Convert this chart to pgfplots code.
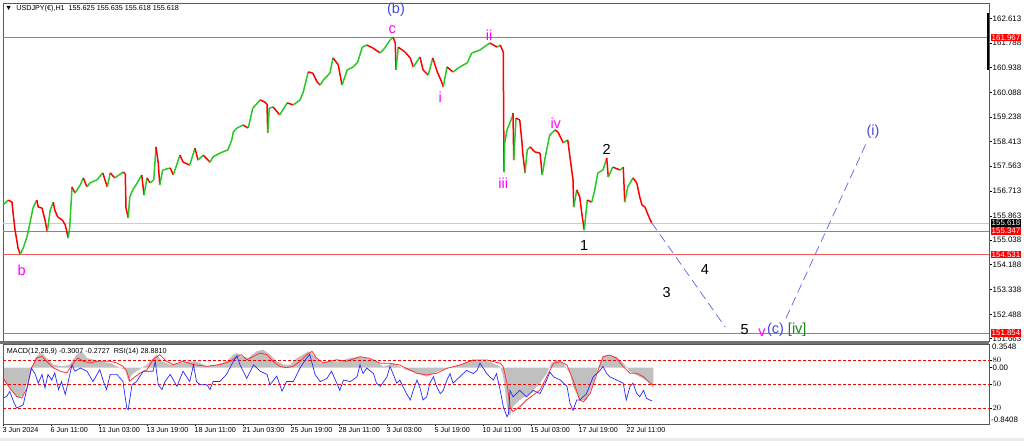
\documentclass[border=0pt]{standalone}
\usepackage{fontspec}
\setmainfont{Liberation Sans}
\usepackage{pgfplots}
\pgfplotsset{compat=1.18}

\definecolor{upc}{RGB}{40,200,40}
\definecolor{dnc}{RGB}{255,0,0}
\definecolor{lvl}{RGB}{240,90,90}
\definecolor{wave}{RGB}{255,0,255}
\definecolor{dashblue}{RGB}{90,100,235}
\definecolor{lblue}{RGB}{70,70,225}
\definecolor{wgreen}{RGB}{20,135,20}
\definecolor{histgray}{RGB}{192,192,192}
\definecolor{rsiblue}{RGB}{40,40,255}
\definecolor{sigred}{RGB}{255,50,50}

\newcommand\tf{\fontsize{7.2}{8}\selectfont}
\newcommand\scf{\fontsize{7.9}{9}\selectfont}
\newcommand\wf{\fontsize{14.5}{15}\selectfont}

\pgfplotsset{
  panel/.style={scale only axis, width=986pt, xmin=0, xmax=1314.67,
    clip=false, axis line style={black!65, line width=0.6pt},
    tick align=outside, major tick length=2.5pt,
    tick style={black, line width=0.5pt},
    ticklabel style={font=\tf, inner sep=1pt},
    yticklabel style={font=\scf}},
}

\begin{document}
\begin{tikzpicture}[x=1pt,y=1pt]
\fill[white] (0,0) rectangle (1024,441);
\useasboundingbox (0,0) rectangle (1024,441);
\fill[black!8] (0,0) rectangle (1024,3);

% price panel
\begin{axis}[panel, height=338pt, at={(3pt,100pt)}, anchor=south west,
  ymin=151.574, ymax=163.151,
  xtick=\empty,
  ytick={162.613,161.788,160.938,160.088,159.238,158.413,157.563,156.713,155.863,155.038,154.188,153.338,152.488,151.663},
  yticklabels={162.613,161.788,160.938,160.088,159.238,158.413,157.563,156.713,155.863,155.038,154.188,153.338,152.488,151.663},
  ytick pos=right, yticklabel pos=right,
  yticklabel style={anchor=west}]

\addplot[black!20, line width=0.5pt] coordinates {(0,155.618) (1314.67,155.618)};
\addplot[lvl, line width=0.6pt] coordinates {(0,161.967) (1314.67,161.967)};
\addplot[lvl, line width=0.6pt] coordinates {(0,155.347) (1314.67,155.347)};
\addplot[lvl, line width=0.6pt] coordinates {(0,154.531) (1314.67,154.531)};
\addplot[lvl, line width=0.6pt] coordinates {(0,151.854) (1314.67,151.854)};

% USDJPY H1, up legs green, down legs red
\addplot[mesh, shader=flat corner, point meta=explicit, point meta min=0, point meta max=1,
  colormap={rg}{color(0)=(dnc) color(1)=(upc)}, line width=1.5pt] coordinates {
(0,156.23) [1] (7,156.40) [0] (12,156.33) [0] (13,156.06) [0] (16,155.38) [0]
(19,154.93) [0] (20,154.76) [0] (23,154.55) [1] (27,154.76) [1] (32,155.14) [1]
(36,155.62) [1] (40,156.13) [1] (45,156.40) [0] (47,156.16) [0] (52,156.13) [0]
(56,155.72) [0] (59,155.31) [1] (63,156.06) [1] (67,156.33) [0] (69,156.06) [0]
(73,155.82) [0] (79,155.72) [0] (83,155.55) [0] (87,155.10) [1] (89,155.48) [1]
(92,156.85) [0] (96,156.64) [1] (103,156.92) [1] (107,157.16) [0] (112,156.85) [1]
(116,156.99) [1] (125,157.09) [1] (133,157.33) [0] (139,156.85) [1] (143,157.33) [0]
(149,157.16) [1] (160,157.36) [0] (163,157.30) [0] (164,156.13) [0] (167,155.79) [1]
(169,156.51) [1] (173,156.75) [1] (179,156.99) [1] (185,157.26) [0] (188,156.57) [1]
(192,157.16) [0] (196,156.99) [1] (201,157.09) [1] (204,158.22) [0] (207,157.67) [0]
(209,156.92) [1] (213,157.43) [1] (223,157.50) [0] (227,157.26) [1] (236,157.94) [0]
(240,157.70) [0] (249,157.60) [1] (256,158.18) [0] (260,157.77) [1] (267,157.94) [0]
(276,157.70) [1] (280,157.88) [1] (289,158.01) [1] (300,158.12) [1] (305,158.46) [1]
(307,158.73) [1] (312,158.87) [1] (320,158.97) [0] (327,158.87) [1] (333,159.55) [1]
(343,159.83) [0] (349,159.76) [0] (352,159.69) [0] (353,158.70) [1] (355,159.55) [1]
(360,159.59) [0] (369,159.32) [1] (379,159.73) [0] (387,159.66) [1] (396,159.83) [1]
(400,160.07) [1] (407,160.79) [0] (413,160.75) [0] (419,160.44) [0] (423,160.34) [1]
(427,160.51) [1] (436,160.75) [1] (440,161.27) [0] (447,161.03) [0] (452,160.34) [1]
(459,160.86) [1] (467,160.96) [1] (473,161.13) [1] (479,161.64) [1] (485,161.71) [0]
(493,161.61) [0] (503,161.44) [1] (509,161.61) [1] (516,161.88) [1] (520,161.98) [0]
(523,161.78) [0] (524,160.86) [1] (527,161.64) [0] (536,161.47) [0] (543,161.27) [0]
(547,160.96) [1] (556,161.30) [0] (560,160.86) [0] (567,160.68) [1] (573,161.27) [0]
(579,160.79) [0] (585,160.44) [0] (587,160.27) [1] (592,160.96) [0] (600,160.79) [1]
(609,160.96) [1] (619,161.10) [1] (625,161.44) [1] (636,161.54) [1] (645,161.71) [1]
(649,161.78) [0] (659,161.64) [1] (663,161.71) [0] (667,161.47) [0] (668,157.36) [1]
(669,158.36) [1] (672,158.80) [1] (679,159.25) [1] (680,159.38) [0] (681,157.77) [1]
(684,159.21) [0] (689,159.14) [0] (692,158.36) [0] (693,158.01) [0] (696,157.33) [1]
(699,158.12) [1] (703,158.22) [0] (709,158.05) [0] (716,158.01) [0] (719,157.26) [1]
(723,157.88) [1] (729,158.63) [1] (736,158.80) [0] (740,158.73) [0] (747,158.36) [1]
(753,158.46) [0] (757,157.67) [0] (760,157.09) [0] (761,156.16) [1] (765,156.75) [0]
(769,156.51) [0] (772,155.89) [0] (775,155.37) [1] (779,156.40) [0] (785,156.33) [1]
(789,156.75) [1] (793,157.33) [1] (800,157.43) [1] (805,157.84) [0] (807,157.19) [1]
(813,157.53) [0] (823,157.43) [1] (827,157.53) [0] (829,156.33) [1] (833,156.85) [1]
(840,157.16) [0] (845,156.99) [0] (849,156.51) [0] (852,156.23) [0] (856,156.16) [0]
(859,155.96) [0] (863,155.72) [0] (865,155.62) [0]
};

% projected path
\addplot[dashblue, line width=0.7pt, dash pattern=on 9pt off 5pt] coordinates {(865,155.62) (963,152.05)};
\addplot[dashblue, line width=0.7pt, dash pattern=on 9pt off 5pt] coordinates {(1044,152.36) (1153,158.46)};

% wave labels
\node[text=lblue, font=\wf] at (axis cs:524,162.91) {(b)};
\node[text=wave, font=\wf] at (axis cs:519,162.23) {c};
\node[text=wave, font=\wf] at (axis cs:648,162.05) {ii};
\node[text=wave, font=\wf] at (axis cs:583,159.93) {i};
\node[text=wave, font=\wf] at (axis cs:667,156.99) {iii};
\node[text=wave, font=\wf] at (axis cs:737,159.04) {iv};
\node[text=black, font=\wf] at (axis cs:805,158.12) {2};
\node[text=black, font=\wf] at (axis cs:775,154.86) {1};
\node[text=wave, font=\wf] at (axis cs:25,154.01) {b};
\node[text=black, font=\wf] at (axis cs:936,154.01) {4};
\node[text=black, font=\wf] at (axis cs:885,153.22) {3};
\node[text=black, font=\wf] at (axis cs:989,151.98) {5};
\node[text=wave, font=\wf] at (axis cs:1012,151.85) {v};
\node[text=lblue, font=\wf] at (axis cs:1030,151.95) {(c)};
\node[text=wgreen, font=\wf] at (axis cs:1059,151.95) {[iv]};
\node[text=lblue, font=\wf] at (axis cs:1160,158.73) {(i)};

% price boxes on the scale
\node[fill=dnc, text=white, font=\scf, inner sep=1pt, anchor=west, xshift=1.5pt] at (axis cs:1314.67,161.967) {161.967};
\node[fill=dnc, text=white, font=\scf, inner sep=1pt, anchor=west, xshift=1.5pt] at (axis cs:1314.67,155.347) {155.347};
\node[fill=dnc, text=white, font=\scf, inner sep=1pt, anchor=west, xshift=1.5pt] at (axis cs:1314.67,154.531) {154.531};
\node[fill=dnc, text=white, font=\scf, inner sep=1pt, anchor=west, xshift=1.5pt] at (axis cs:1314.67,151.854) {151.854};
\node[fill=black, text=white, font=\scf, inner sep=1pt, anchor=west, xshift=1.5pt] at (axis cs:1314.67,155.618) {155.618};
\end{axis}

\draw[line width=2pt] (988,428) -- (988,371);
\node[anchor=west, font=\tf, inner sep=0pt] at (5,432) {▼\ \ USDJPY(€),H1\ \ 155.625 155.635 155.618 155.618};

\fill[black!55] (0,97) rectangle (989,100);

% MACD part of the lower panel
\begin{axis}[panel, height=80pt, at={(3pt,17pt)}, anchor=south west,
  ymin=-0.8408, ymax=0.3548,
  xtick={0,64,128,192,256,320,384,448,512,576,640,704,768,832},
  xticklabels={3 Jun 2024,6 Jun 11:00,11 Jun 03:00,13 Jun 19:00,18 Jun 11:00,21 Jun 03:00,25 Jun 19:00,28 Jun 11:00,3 Jul 03:00,5 Jul 19:00,10 Jul 11:00,15 Jul 03:00,17 Jul 19:00,22 Jul 11:00},
  xtick pos=bottom, xticklabel style={anchor=north west, xshift=-1.5pt},
  ytick={0}, yticklabels={0.00}, ytick pos=right, yticklabel pos=right,
  yticklabel style={anchor=west}]
\addplot[fill=histgray, draw=none] coordinates {
(0,-0.178)(7,-0.277)(14,-0.377)(20,-0.452)(27,-0.403)(34,-0.153)(38,0.00)(43,0.146)(47,0.195)(52,0.22)
(58,0.146)(67,0.046)(80,0.021)(89,0.046)(98,0.195)(105,0.245)(112,0.146)(129,0.096)(143,0.071)(156,0.00)
(163,-0.03)(167,-0.20)(172,-0.10)(178,-0.05)(192,0.046)(200,0.146)(205,0.195)(212,0.096)(223,0.046)(236,0.071)
(249,0.096)(258,0.096)(272,0.021)(285,0.046)(298,0.096)(307,0.195)(312,0.22)(318,0.171)(327,0.146)(338,0.245)
(347,0.27)(356,0.195)(365,0.096)(374,0.046)(383,0.046)(392,0.146)(400,0.195)(407,0.245)(416,0.171)(423,0.071)
(434,0.096)(449,0.096)(463,0.146)(476,0.165)(494,0.116)(507,0.016)(520,0.066)(538,-0.034)(552,-0.083)(565,-0.134)
(578,-0.06)(592,-0.009)(609,0.041)(627,0.116)(649,0.091)(663,0.016)(667,-0.134)(672,-0.582)(676,-0.732)(680,-0.582)
(689,-0.482)(703,-0.382)(716,-0.232)(725,-0.083)(731,0.066)(738,0.116)(747,0.066)(756,-0.083)(760,-0.283)(769,-0.482)
(778,-0.482)(787,-0.232)(792,-0.034)(800,0.165)(805,0.19)(818,0.165)(827,0.066)(836,-0.059)(849,-0.134)(863,-0.232)
(867,-0.300)
} \closedcycle;
\addplot[sigred, line width=0.8pt] coordinates {
(0,-0.153)(9,-0.303)(18,-0.427)(25,-0.452)(32,-0.303)(38,-0.004)(45,0.146)(52,0.171)(58,0.096)(67,0.00)
(76,-0.05)(85,-0.078)(94,0.071)(100,0.146)(107,0.096)(116,0.071)(125,0.096)(143,0.096)(152,0.071)(160,0.021)
(165,-0.05)(169,-0.20)(174,-0.153)(183,-0.078)(192,-0.03)(200,0.12)(209,0.195)(218,0.096)(227,0.046)(240,0.096)
(254,0.046)(272,0.021)(289,0.046)(303,0.096)(312,0.171)(318,0.195)(325,0.12)(334,0.171)(343,0.22)(352,0.195)
(360,0.096)(369,0.021)(378,0.00)(387,0.021)(396,0.096)(405,0.195)(412,0.245)(418,0.146)(427,0.071)(436,0.096)
(445,0.12)(458,0.096)(476,0.165)(489,0.141)(503,0.066)(516,0.066)(529,0.041)(538,-0.009)(552,-0.083)(565,-0.108)
(578,-0.083)(592,-0.009)(609,0.041)(627,0.116)(645,0.116)(663,0.066)(667,0.016)(672,-0.232)(676,-0.582)(680,-0.657)
(689,-0.582)(698,-0.482)(716,-0.333)(725,-0.134)(734,0.066)(743,0.091)(752,0.041)(760,-0.183)(769,-0.482)(774,-0.507)
(783,-0.382)(792,-0.083)(800,0.165)(809,0.190)(818,0.141)(827,0.016)(836,-0.083)(845,-0.083)(854,-0.134)(863,-0.232)
(867,-0.258)
};
\node[font=\scf, inner sep=1pt, anchor=north west, xshift=2pt, yshift=1pt] at (rel axis cs:1,1) {0.3548};
\node[font=\scf, inner sep=1pt, anchor=south west, xshift=1pt] at (rel axis cs:1,0) {-0.8408};
\node[font=\tf, inner sep=0pt, anchor=west] at (axis cs:5,0.245) {MACD(12,26,9) -0.3007 -0.2727\ \ RSI(14) 28.8810};
\end{axis}

% RSI part of the lower panel
\begin{axis}[panel, height=80pt, at={(3pt,17pt)}, anchor=south west,
  ymin=0, ymax=100, xtick=\empty,
  ytick={20,50,80}, ytick pos=right, yticklabel pos=right,
  yticklabel style={anchor=west}]
\addplot[dnc, line width=0.6pt, dash pattern=on 2.5pt off 2.5pt] coordinates {(0,80) (1314.67,80)};
\addplot[dnc, line width=0.6pt, dash pattern=on 2.5pt off 2.5pt] coordinates {(0,50) (1314.67,50)};
\addplot[dnc, line width=0.6pt, dash pattern=on 2.5pt off 2.5pt] coordinates {(0,20) (1314.67,20)};
\addplot[rsiblue, line width=0.7pt] coordinates {
(0,32.5)(5,34.6)(9,40.8)(14,28.3)(18,20)(23,22)(27,24)(32,45)(38,70)(43,62)
(47,51)(52,62)(56,45)(60,62)(65,55)(69,64)(74,43)(78,53)(83,37)(87,53)
(92,74)(96,66)(103,70)(112,66)(120,53)(129,68)(134,53)(138,43)(143,62)(152,62)
(160,53)(165,20)(167,18)(172,49)(178,53)(187,66)(200,66)(203,78)(207,49)(212,43)
(216,53)(223,62)(232,47)(240,66)(249,53)(254,74)(258,53)(263,49)(272,49)(276,43)
(280,53)(289,53)(298,62)(307,78)(312,85)(316,74)(325,57)(334,74)(343,66)(352,62)
(356,49)(365,60)(372,41)(378,53)(387,53)(396,70)(403,80)(409,87)(416,62)(423,53)
(432,57)(438,66)(445,51)(449,42)(454,55)(463,53)(472,59)(476,74)(480,63)(485,70)
(494,63)(498,51)(503,47)(512,59)(516,72)(520,63)(525,51)(529,55)(538,38)(543,30)
(547,42)(552,55)(556,45)(560,30)(565,34)(569,51)(574,59)(578,47)(583,38)(587,42)
(592,55)(596,63)(600,51)(609,59)(618,67)(627,63)(632,67)(636,76)(645,63)(649,59)
(654,55)(658,63)(663,42)(667,22)(672,9)(674,13)(676,42)(680,34)(689,42)(698,34)
(707,42)(716,38)(725,55)(729,65)(734,59)(743,55)(752,47)(756,26)(760,17)(765,30)
(769,30)(778,38)(787,59)(796,67)(800,72)(805,63)(809,59)(818,55)(827,51)(831,30)
(836,47)(840,51)(845,38)(849,34)(854,42)(858,32)(865,28.9)
};
\end{axis}
\end{tikzpicture}
\end{document}
